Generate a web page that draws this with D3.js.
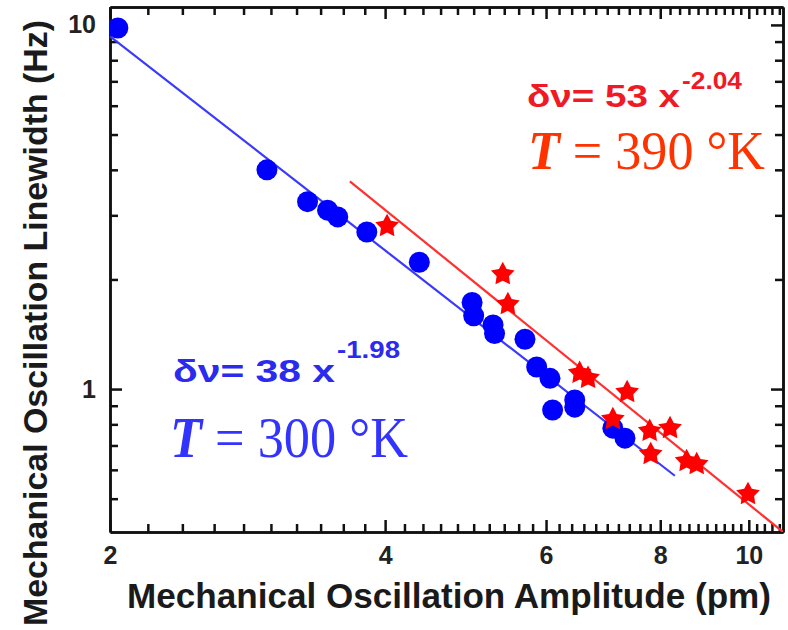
<!DOCTYPE html>
<html><head><meta charset="utf-8">
<script src="https://cdn.jsdelivr.net/npm/d3@7"></script>
<style>body{margin:0;background:#fff}svg{display:block}</style>
</head><body><svg id="c" width="788" height="630"></svg>
<script>
// ---- data ----
const blueX = [2.04, 2.97, 3.29, 3.46, 3.55, 3.82, 4.36, 4.98, 5.00, 5.25, 5.27, 5.69, 5.86, 6.06, 6.10, 6.45, 6.45, 7.10, 7.32];
const blueY = [9.81, 4.00, 3.27, 3.10, 2.97, 2.70, 2.23, 1.73, 1.59, 1.50, 1.42, 1.37, 1.15, 1.07, 0.876, 0.933, 0.892, 0.781, 0.733];
const redX = [4.02, 5.38, 5.45, 6.53, 6.67, 7.36, 7.10, 7.79, 8.20, 7.81, 8.55, 8.77, 9.98];
const redY = [2.82, 2.08, 1.72, 1.114, 1.079, 0.987, 0.832, 0.772, 0.786, 0.667, 0.638, 0.626, 0.518];
const blueFitX = [2.0, 8.3];
const blueFitY = [9.3, 0.578];
const redFitX = [3.66, 10.9];
const redFitY = [3.72, 0.405];
const xMajorTicks = [2, 4, 6, 8, 10];
const xTickLabels = ["2", "4", "6", "8", "10"];
const xMinorTicks = [2.2,2.4,2.6,2.8,3.0,3.2,3.4,3.6,3.8,4.2,4.4,4.6,4.8,5.0,5.2,5.4,5.6,5.8,6.2,6.4,6.6,6.8,7.0,7.2,7.4,7.6,7.8,8.2,8.4,8.6,8.8,9.0,9.2,9.4,9.6,9.8,10.2,10.4,10.6,10.8];
const yMajorTicks = [1, 10];
const yTickLabels = ["1", "10"];
const yMinorTicks = [0.5, 0.6, 0.7, 0.8, 0.9, 2, 3, 4, 5, 6, 7, 8, 9];
const xDomain = [2, 10.9];
const yDomain = [0.405, 11.2];
const xTitle = "Mechanical Oscillation Amplitude (pm)";
const yTitle = "Mechanical Oscillation Linewidth (Hz)";

// ---- layout ----
const L = 110, R = 783, T = 7, B = 532;
const svg = d3.select("#c");
const x = d3.scaleLog().domain(xDomain).range([L, R]);
const y = d3.scaleLog().domain(yDomain).range([B, T]);

const axisColor = "#111";
function styleAxis(g) {
  g.attr("font-size", null).attr("font-family", null);
  g.selectAll("path.domain").attr("stroke", axisColor).attr("stroke-width", 2.5);
  g.selectAll(".tick line").attr("stroke", axisColor).attr("stroke-width", 2.5);
  g.selectAll("text")
    .style("font-family", "'Liberation Sans', Arial, sans-serif")
    .style("font-weight", "bold").style("font-size", "25px").attr("fill", "#222");
}
// bottom
svg.append("g").attr("transform", `translate(0,${B})`)
  .call(d3.axisBottom(x).tickValues(xMinorTicks).tickSize(-8).tickSizeOuter(0).tickFormat(""))
  .call(styleAxis);
svg.append("g").attr("transform", `translate(0,${B})`)
  .call(d3.axisBottom(x).tickValues(xMajorTicks).tickSize(-12).tickSizeOuter(0).tickPadding(14)
    .tickFormat((d, i) => xTickLabels[i]))
  .call(styleAxis);
// top
svg.append("g").attr("transform", `translate(0,${T})`)
  .call(d3.axisTop(x).tickValues(xMinorTicks).tickSize(-8).tickSizeOuter(0).tickFormat(""))
  .call(styleAxis);
svg.append("g").attr("transform", `translate(0,${T})`)
  .call(d3.axisTop(x).tickValues(xMajorTicks).tickSize(-12).tickSizeOuter(0).tickFormat(""))
  .call(styleAxis);
// left
svg.append("g").attr("transform", `translate(${L},0)`)
  .call(d3.axisLeft(y).tickValues(yMinorTicks).tickSize(-8).tickSizeOuter(0).tickFormat(""))
  .call(styleAxis);
svg.append("g").attr("transform", `translate(${L},0)`)
  .call(d3.axisLeft(y).tickValues(yMajorTicks).tickSize(-12).tickSizeOuter(0).tickPadding(14)
    .tickFormat((d, i) => yTickLabels[i]))
  .call(styleAxis);
// right
svg.append("g").attr("transform", `translate(${R},0)`)
  .call(d3.axisRight(y).tickValues(yMinorTicks).tickSize(-8).tickSizeOuter(0).tickFormat(""))
  .call(styleAxis);
svg.append("g").attr("transform", `translate(${R},0)`)
  .call(d3.axisRight(y).tickValues(yMajorTicks).tickSize(-12).tickSizeOuter(0).tickFormat(""))
  .call(styleAxis);

// clip
svg.append("clipPath").attr("id", "clip").append("rect")
  .attr("x", L).attr("y", T).attr("width", R - L).attr("height", B - T);
const plot = svg.append("g").attr("clip-path", "url(#clip)");

const line = d3.line().x(d => x(d[0])).y(d => y(d[1]));
plot.append("path").datum(blueFitX.map((v, i) => [v, blueFitY[i]]))
  .attr("d", line).attr("fill", "none").attr("stroke", "#3a3aff").attr("stroke-width", 2.2);
plot.append("path").datum(redFitX.map((v, i) => [v, redFitY[i]]))
  .attr("d", line).attr("fill", "none").attr("stroke", "#ff3030").attr("stroke-width", 2.2);

// markers
plot.selectAll("circle.b").data(blueX.map((v, i) => [v, blueY[i]])).join("circle")
  .attr("cx", d => x(d[0])).attr("cy", d => y(d[1])).attr("r", 10.5).attr("fill", "#0000ff");
// fat five-pointed star symbol
const fatStar = {
  draw(ctx, size) {
    const ro = Math.sqrt(size / 2.0), ri = ro * 0.52;
    for (let k = 0; k < 10; k++) {
      const r = k % 2 ? ri : ro, a = -Math.PI / 2 + k * Math.PI / 5;
      const px = r * Math.cos(a), py = r * Math.sin(a);
      k ? ctx.lineTo(px, py) : ctx.moveTo(px, py);
    }
    ctx.closePath();
  }
};
const star = d3.symbol().type(fatStar).size(310);
plot.selectAll("path.r").data(redX.map((v, i) => [v, redY[i]])).join("path")
  .attr("transform", d => `translate(${x(d[0])},${y(d[1]) + 1})`)
  .attr("d", star).attr("fill", "#ff0000");

// titles
svg.append("text").attr("x", 127).attr("y", 608).text(xTitle)
  .attr("font-family", "Liberation Sans, Arial, sans-serif").attr("font-weight", "bold")
  .attr("font-size", 35).attr("fill", "#1a1a1a")
  .attr("textLength", 644).attr("lengthAdjust", "spacingAndGlyphs");
svg.append("text").attr("transform", "translate(47,626) rotate(-90)").attr("x", 0).attr("y", 0).text(yTitle)
  .attr("font-family", "Liberation Sans, Arial, sans-serif").attr("font-weight", "bold")
  .attr("font-size", 34).attr("fill", "#1a1a1a")
  .attr("textLength", 606).attr("lengthAdjust", "spacingAndGlyphs");

// annotations
function formula(xp, yp, main, mainLen, fs, expText, ex, ey, expLen, color) {
  svg.append("text").attr("x", xp).attr("y", yp).text(main)
    .attr("font-family", "Liberation Sans, Arial, sans-serif").attr("font-weight", "bold")
    .attr("font-size", fs).attr("fill", color)
    .attr("textLength", mainLen).attr("lengthAdjust", "spacingAndGlyphs");
  svg.append("text").attr("x", ex).attr("y", ey).text(expText)
    .attr("font-family", "Liberation Sans, Arial, sans-serif").attr("font-weight", "bold")
    .attr("font-size", 24).attr("fill", color)
    .attr("textLength", expLen).attr("lengthAdjust", "spacingAndGlyphs");
}
function temp(xp, yp, val, len, fs, color) {
  const t = svg.append("text").attr("x", xp).attr("y", yp)
    .attr("font-family", "Liberation Serif, Times New Roman, serif")
    .attr("font-size", fs).attr("fill", color)
    .attr("textLength", len).attr("lengthAdjust", "spacingAndGlyphs");
  t.append("tspan").attr("font-weight", "bold").attr("font-style", "italic").text("T");
  t.append("tspan").text(" = " + val + " \u00B0K");
}
formula(527, 107, "\u03B4\u03BD= 53 x", 153, 31, "-2.04", 682, 89, 60, "#ee1a26");
temp(528, 169, "390", 237, 54, "#ff3300");
formula(173, 382, "\u03B4\u03BD= 38 x", 162, 32, "-1.98", 337, 358, 63, "#2b2bf0");
temp(170, 457, "300", 238, 56, "#3333ff");
</script></body></html>
